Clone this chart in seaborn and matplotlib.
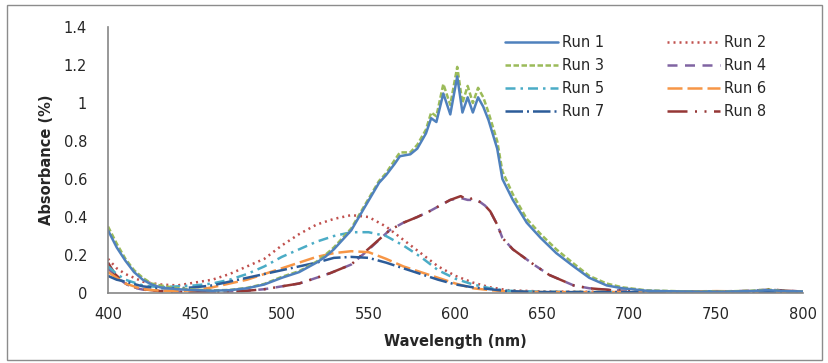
import matplotlib
matplotlib.use("Agg")
import matplotlib.pyplot as plt
import seaborn as sns
from matplotlib.patches import Rectangle
from matplotlib.ticker import FormatStrFormatter

# wavelength grids (nm)
wl_main = [400, 405, 410, 415, 420, 425, 430, 440, 450, 460, 470, 480, 490, 500, 510, 520, 525, 530,
           540, 547, 556, 560, 565, 568, 574, 578, 583, 586, 589, 593, 597, 601, 604, 607, 610, 613,
           616, 619, 624, 627, 633, 641, 649, 658, 668, 677, 687, 696, 710, 730, 750, 770, 780, 790, 800]
wl_red = [400, 404, 410, 414, 420, 430, 440, 450, 460, 470, 480, 490, 500, 510, 520, 528, 540, 549,
          562, 570, 578, 585, 591, 597, 603, 607, 610, 614, 617, 620, 624, 627, 633, 645, 654, 668,
          677, 690, 710, 740, 770, 780, 790, 800]
wl_broad = [400, 405, 410, 420, 430, 440, 450, 460, 470, 480, 490, 500, 510, 520, 530, 540, 550,
            560, 570, 580, 590, 600, 610, 620, 630, 650, 700, 750, 800]

run1 = [0.33, 0.24, 0.17, 0.11, 0.07, 0.045, 0.03, 0.02, 0.015, 0.012, 0.015, 0.025, 0.045, 0.08,
        0.11, 0.16, 0.19, 0.23, 0.33, 0.44, 0.58, 0.62, 0.68, 0.72, 0.73, 0.76, 0.84, 0.92, 0.90,
        1.05, 0.94, 1.14, 0.95, 1.03, 0.95, 1.03, 0.98, 0.91, 0.76, 0.60, 0.49, 0.37, 0.29, 0.21,
        0.14, 0.08, 0.04, 0.025, 0.012, 0.008, 0.006, 0.01, 0.015, 0.01, 0.008]
run3 = [0.35, 0.26, 0.18, 0.12, 0.08, 0.05, 0.04, 0.025, 0.018, 0.014, 0.016, 0.027, 0.048, 0.085,
        0.115, 0.165, 0.20, 0.24, 0.34, 0.45, 0.59, 0.63, 0.70, 0.74, 0.74, 0.78, 0.86, 0.95, 0.93,
        1.10, 0.99, 1.19, 1.00, 1.09, 1.00, 1.08, 1.03, 0.95, 0.80, 0.64, 0.52, 0.39, 0.31, 0.23,
        0.155, 0.09, 0.05, 0.03, 0.014, 0.009, 0.007, 0.012, 0.018, 0.01, 0.008]
run8 = [0.16, 0.10, 0.05, 0.033, 0.02, 0.01, 0.007, 0.006, 0.006, 0.008, 0.012, 0.02, 0.035, 0.05,
        0.08, 0.105, 0.15, 0.225, 0.33, 0.37, 0.40, 0.43, 0.46, 0.49, 0.51, 0.49, 0.50, 0.48, 0.46,
        0.43, 0.36, 0.29, 0.23, 0.15, 0.095, 0.04, 0.025, 0.015, 0.008, 0.006, 0.01, 0.02, 0.012, 0.008]
run4 = [0.13, 0.09, 0.05, 0.03, 0.018, 0.01, 0.007, 0.006, 0.006, 0.008, 0.012, 0.02, 0.035, 0.05,
        0.08, 0.105, 0.15, 0.22, 0.33, 0.37, 0.40, 0.43, 0.46, 0.49, 0.50, 0.49, 0.49, 0.48, 0.46,
        0.43, 0.36, 0.29, 0.23, 0.15, 0.095, 0.04, 0.025, 0.015, 0.008, 0.006, 0.012, 0.018, 0.012, 0.008]
run2 = [0.18, 0.13, 0.10, 0.06, 0.045, 0.04, 0.055, 0.07, 0.10, 0.14, 0.18, 0.25, 0.31, 0.36, 0.39,
        0.41, 0.40, 0.35, 0.28, 0.21, 0.14, 0.09, 0.055, 0.03, 0.015, 0.008, 0.005, 0.005, 0.005]
run5 = [0.14, 0.10, 0.07, 0.04, 0.03, 0.035, 0.04, 0.05, 0.07, 0.10, 0.14, 0.19, 0.23, 0.27, 0.30,
        0.32, 0.32, 0.30, 0.25, 0.19, 0.12, 0.075, 0.045, 0.025, 0.012, 0.007, 0.005, 0.008, 0.005]
run6 = [0.11, 0.08, 0.05, 0.02, 0.012, 0.01, 0.015, 0.03, 0.05, 0.07, 0.10, 0.13, 0.16, 0.19, 0.21,
        0.22, 0.215, 0.18, 0.14, 0.11, 0.08, 0.05, 0.025, 0.015, 0.008, 0.005, 0.005, 0.01, 0.005]
run7 = [0.09, 0.07, 0.06, 0.035, 0.025, 0.025, 0.03, 0.04, 0.06, 0.08, 0.10, 0.12, 0.14, 0.16, 0.185,
        0.19, 0.185, 0.16, 0.13, 0.10, 0.07, 0.045, 0.03, 0.02, 0.01, 0.005, 0.004, 0.006, 0.004]

sns.set_style("white")
plt.rcParams["font.family"] = ["DejaVu Sans"]

fig = plt.figure(figsize=(8.29, 3.63), dpi=100)
ax = fig.add_axes([0.1303, 0.1928, 0.8383, 0.7328])

lw = 1.8
# (label, x, y, color, linestyle) - drawn back to front
series = [
    ("Run 4", wl_red, run4, "#8064A2", (0, (4, 3))),
    ("Run 8", wl_red, run8, "#953735", (0, (8, 3, 0.8, 3, 0.8, 3))),
    ("Run 2", wl_broad, run2, "#C0504D", (0, (0.8, 1.6))),
    ("Run 5", wl_broad, run5, "#4BACC6", (0, (4, 2, 1, 2))),
    ("Run 6", wl_broad, run6, "#F79646", (0, (6, 2))),
    ("Run 7", wl_broad, run7, "#2C5C99", (0, (7, 1.6, 0.8, 1.6))),
    ("Run 3", wl_main, run3, "#9BBB59", (0, (2.2, 1.0))),
    ("Run 1", wl_main, run1, "#4F81BD", "-"),
]
for label, x, y, c, ls in series:
    sns.lineplot(x=x, y=y, ax=ax, color=c, linestyle=ls, linewidth=lw, label=label)

ax.set_xlim(400, 800)
ax.set_ylim(0, 1.4)
ax.set_xticks([400, 450, 500, 550, 600, 650, 700, 750, 800])
ax.set_yticks([0, 0.2, 0.4, 0.6, 0.8, 1.0, 1.2, 1.4])
ax.yaxis.set_major_formatter(FormatStrFormatter("%g"))
ax.tick_params(axis="both", direction="out", length=5, width=1, color="#868686",
               labelsize=10.5)
ax.tick_params(axis="y", pad=10)
ax.tick_params(axis="x", pad=5)
for s in ["top", "right"]:
    ax.spines[s].set_visible(False)
for s in ["left", "bottom"]:
    ax.spines[s].set_color("#868686")
    ax.spines[s].set_linewidth(1.2)

ax.set_xlabel("Wavelength (nm)", fontweight="bold", fontsize=10.5, labelpad=9)
ax.set_ylabel("Absorbance (%)", fontweight="bold", fontsize=10.5, labelpad=7)

handles, labels = ax.get_legend_handles_labels()
order = ["Run 1", "Run 3", "Run 5", "Run 7", "Run 2", "Run 4", "Run 6", "Run 8"]
hmap = dict(zip(labels, handles))
ax.legend([hmap[k] for k in order], order, ncol=2, frameon=False, fontsize=10.5,
          loc="upper left", bbox_to_anchor=(498 / 829, 1 - 28 / 363),
          bbox_transform=fig.transFigure, borderpad=0, handlelength=3.6,
          handletextpad=0.3, columnspacing=4.3, labelspacing=0.55)

fig.patches.append(Rectangle((7 / 829, 3 / 363), 815 / 829, 355 / 363, transform=fig.transFigure,
                             fill=False, edgecolor="#8c8c8c", linewidth=1))

fig.savefig("out.png", dpi=100)
